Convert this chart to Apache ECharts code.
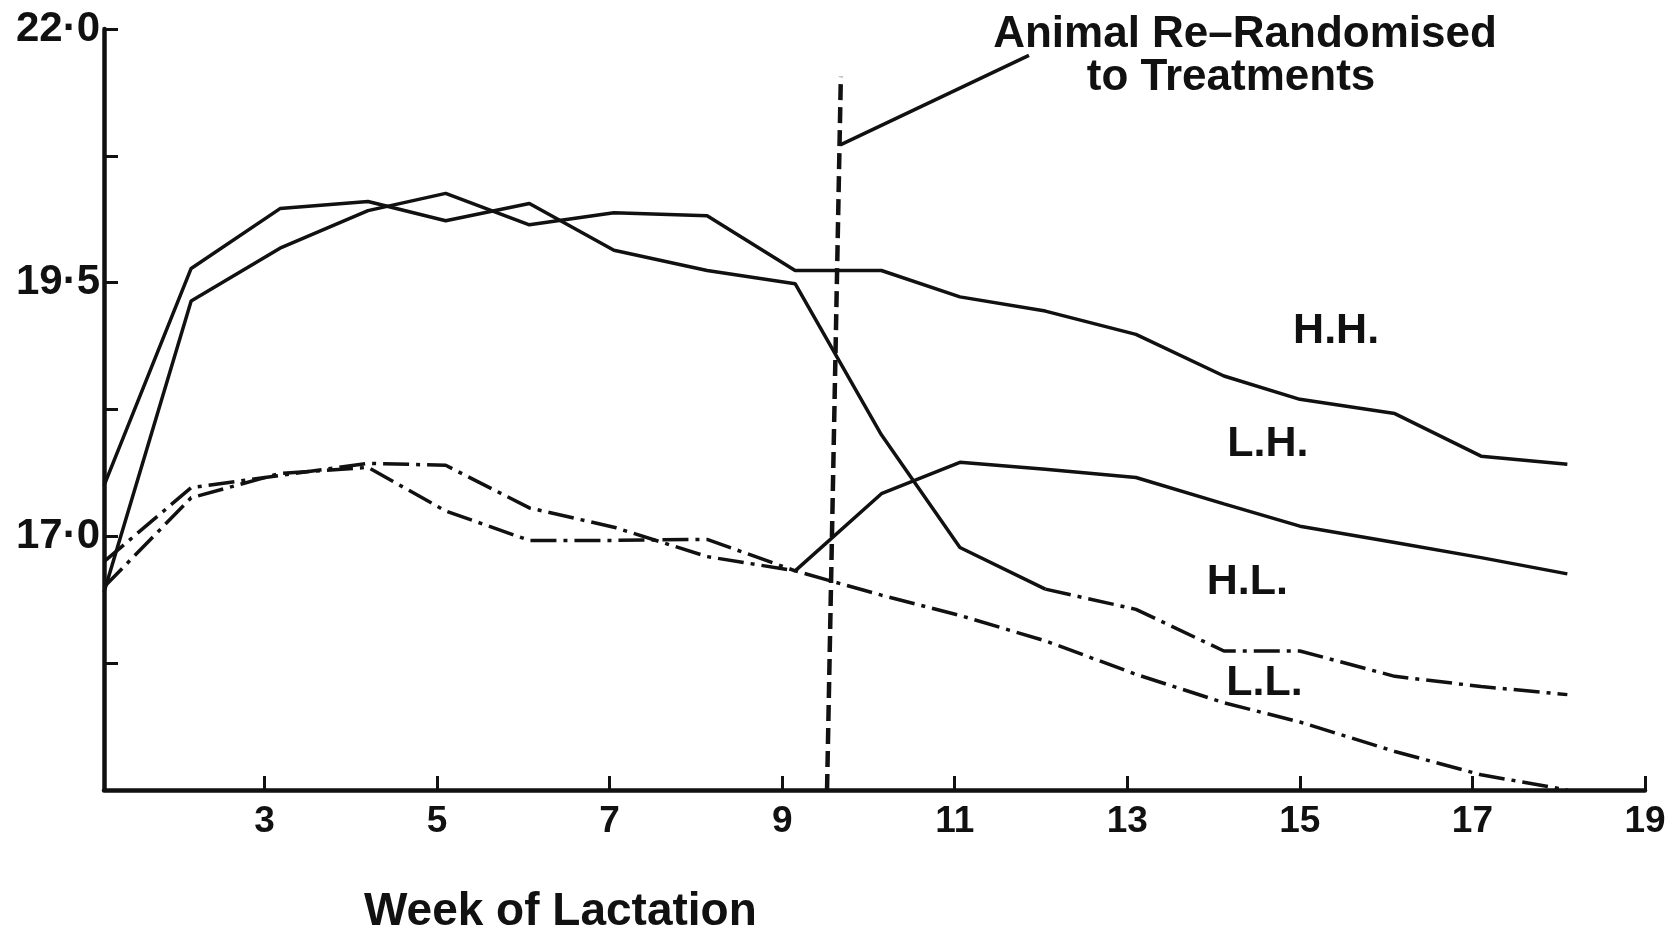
<!DOCTYPE html>
<html>
<head>
<meta charset="utf-8">
<script src="https://cdn.jsdelivr.net/npm/echarts@6/dist/echarts.min.js"></script>
<style>
    html, body { margin: 0; background: #fff; }
    #chart { width: 1680px; height: 929px; }
</style>
</head>
<body>
<div id="chart"></div>
<script>
// week of lactation, as placed on the drawn axis
const weeks = [1.14, 2.15, 3.18, 4.2, 5.1, 6.07, 7.05, 8.13, 9.15, 10.15, 11.06, 12.05, 13.1, 14.12, 15.0, 16.1, 17.1, 18.1];

// yield per treatment group (before / after re-randomisation)
const hh = [16.45, 19.32, 19.84, 20.21, 20.38, 20.07, 20.19, 20.16, 19.62, 19.62, 19.36, 19.22, 18.99, 18.58, 18.35, 18.21, 17.79, 17.71];
const hl = [17.5, 19.64, 20.23, 20.3, 20.11, 20.28, 19.82, 19.62, 19.49, 18.0, 16.89, 16.48, 16.28, 15.87, 15.87, 15.62, 15.52, 15.44];
const lh = [16.5, 17.38, 17.62, 17.68, 17.25, 16.96, 16.96, 16.97, 16.66, 17.42, 17.73, 17.66, 17.58, 17.32, 17.1, 16.94, 16.79, 16.63];
const ll = [16.75, 17.48, 17.6, 17.72, 17.7, 17.28, 17.09, 16.8, 16.66, 16.42, 16.22, 15.97, 15.64, 15.36, 15.17, 14.88, 14.65, 14.5];

const xTicks = [3, 5, 7, 9, 11, 13, 15, 17, 19];
const yTicks = [15.75, 17, 18.25, 19.5, 20.75, 22];
const yLabels = [17, 19.5, 22];

const groupNames = ['H.H.', 'L.H.', 'H.L.', 'L.L.'];
const groupNamePos = [[15.42, 19.02], [14.63, 17.91], [14.39, 16.55], [14.59, 15.55]];

// re-randomisation marker: dashed line and pointer
const splitLine = [[9.52, 14.5], [9.68, 21.53]];
const pointer = [[11.86, 21.74], [9.68, 20.86]];

const FONT = '"Liberation Sans", Arial, sans-serif';
const INK = '#111';
const DASH_DOT = [26, 7, 4, 7];

function pairs(values, from = 0, to = values.length) {
    return weeks.slice(from, to).map((w, i) => [w, values[from + i]]);
}

function line(name, data, type) {
    return {
        type: 'line',
        name: name,
        data: data,
        symbol: 'none',
        lineStyle: {color: INK, width: 3.5, type: type},
        z: 3
    };
}

const chart = echarts.init(document.getElementById('chart'));

chart.setOption({
    backgroundColor: '#fff',
    animation: false,
    grid: {left: 104, right: 35, top: 29, bottom: 139},
    title: {
        text: 'Week of Lactation',
        left: 364,
        top: 889,
        padding: 0,
        textStyle: {fontFamily: FONT, fontSize: 46, fontWeight: 'bold', color: INK}
    },
    graphic: [{
        type: 'text',
        x: 1245,
        y: 35,
        style: {
            text: 'Animal Re\u2013Randomised',
            font: 'bold 44px ' + FONT,
            fill: INK,
            align: 'center',
            verticalAlign: 'middle'
        }
    }, {
        type: 'text',
        x: 1231,
        y: 78,
        style: {
            text: 'to Treatments',
            font: 'bold 44px ' + FONT,
            fill: INK,
            align: 'center',
            verticalAlign: 'middle'
        }
    }],
    xAxis: {
        type: 'value',
        min: 1.14,
        max: 19,
        splitLine: {show: false},
        axisLine: {lineStyle: {color: INK, width: 4.5}},
        axisTick: {inside: true, length: 14, customValues: xTicks, lineStyle: {color: INK, width: 3}},
        axisLabel: {
            customValues: xTicks,
            margin: 13,
            fontFamily: FONT,
            fontSize: 37,
            fontWeight: 'bold',
            color: INK
        }
    },
    yAxis: {
        type: 'value',
        min: 14.5,
        max: 22,
        splitLine: {show: false},
        axisLine: {lineStyle: {color: INK, width: 4.5}},
        axisTick: {inside: true, length: 14, customValues: yTicks, lineStyle: {color: INK, width: 3}},
        axisLabel: {
            customValues: yLabels,
            margin: 4,
            fontFamily: FONT,
            fontSize: 42,
            fontWeight: 'bold',
            color: INK,
            formatter: v => v.toFixed(1).replace('.', '\u00b7')
        }
    },
    series: [
        {
            ...line('H.H.', pairs(hh), 'solid'),
            markLine: {
                silent: true,
                symbol: 'none',
                label: {show: false},
                data: [
                    [{coord: splitLine[0], lineStyle: {type: [16, 7], width: 4.5, color: INK}}, {coord: splitLine[1]}],
                    [{coord: pointer[0], lineStyle: {type: 'solid', width: 3.5, color: INK}}, {coord: pointer[1]}]
                ]
            }
        },
        line('H.L.', pairs(hl, 0, 12), 'solid'),
        line('H.L.', pairs(hl, 11), DASH_DOT),
        line('L.H.', pairs(lh, 0, 9), DASH_DOT),
        line('L.H.', pairs(lh, 8), 'solid'),
        line('L.L.', pairs(ll), DASH_DOT),
        {
            type: 'scatter',
            name: 'labels',
            symbolSize: 0,
            silent: true,
            itemStyle: {opacity: 1, color: INK},
            data: groupNamePos.map((p, i) => ({value: p, name: groupNames[i]})),
            label: {
                show: true,
                position: 'inside',
                formatter: p => p.name,
                fontFamily: FONT,
                fontSize: 43,
                fontWeight: 'bold',
                color: INK,
                opacity: 1
            }
        }
    ]
});
</script>
</body>
</html>
